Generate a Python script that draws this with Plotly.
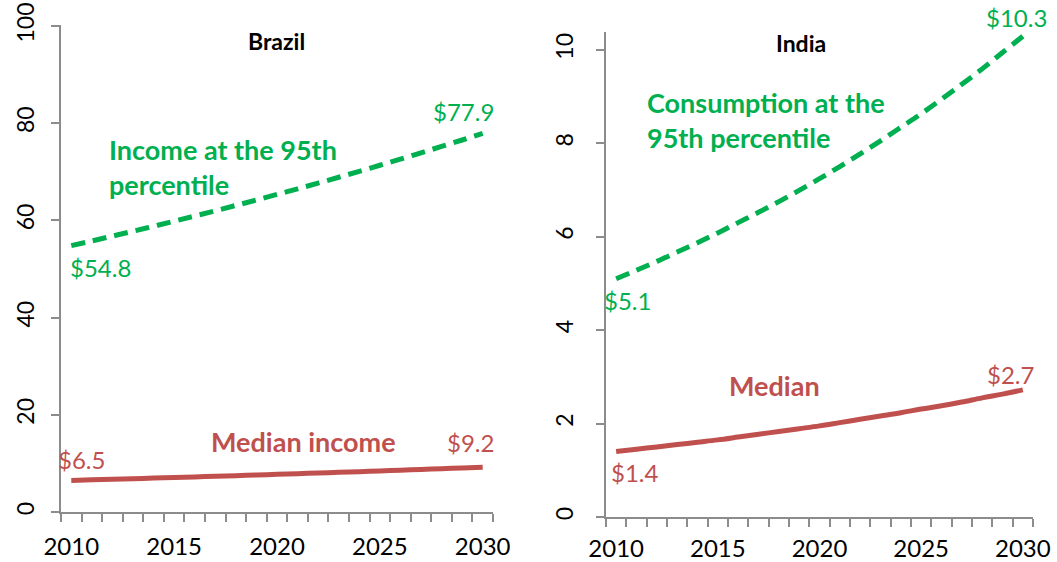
"""
Brazil income vs India consumption, median and 95th percentile, 2010-2030
"""
import plotly.graph_objects as go

years = list(range(2010, 2031))

brazil_p95 = [54.80, 55.77, 56.76, 57.77, 58.79, 59.84, 60.90, 61.98, 63.08, 64.20, 65.34,
              66.50, 67.68, 68.88, 70.10, 71.34, 72.61, 73.90, 75.21, 76.54, 77.90]
brazil_median = [6.50, 6.61, 6.73, 6.85, 6.97, 7.09, 7.22, 7.35, 7.48, 7.61, 7.74,
                 7.88, 8.02, 8.16, 8.30, 8.45, 8.60, 8.75, 8.90, 9.05, 9.20]
india_p95 = [5.10, 5.28, 5.47, 5.67, 5.87, 6.08, 6.30, 6.52, 6.75, 6.99, 7.24,
             7.50, 7.77, 8.05, 8.34, 8.63, 8.94, 9.26, 9.59, 9.94, 10.29]
india_median = [1.40, 1.45, 1.50, 1.55, 1.60, 1.65, 1.71, 1.77, 1.83, 1.89, 1.95,
                2.02, 2.09, 2.16, 2.23, 2.31, 2.38, 2.46, 2.55, 2.63, 2.72]

year_labels = [2010, 2015, 2020, 2025, 2030]
brazil_yticks = [0, 20, 40, 60, 80, 100]
india_yticks = [0, 2, 4, 6, 8, 10]

GREEN = '#00B050'
RED = '#C0504D'
AXIS = '#8C8C8C'
FONT = 'Lato'

fig = go.Figure()

dashed = {'color': GREEN, 'width': 5, 'dash': '14px,8px', 'shape': 'spline'}
solid = {'color': RED, 'width': 5, 'shape': 'spline'}
fig.add_trace(go.Scatter(x=years, y=brazil_p95, mode='lines', line=dashed))
fig.add_trace(go.Scatter(x=years, y=brazil_median, mode='lines', line=solid))
fig.add_trace(go.Scatter(x=years, y=india_p95, mode='lines', xaxis='x2', yaxis='y2',
                         line=dashed))
fig.add_trace(go.Scatter(x=years, y=india_median, mode='lines', xaxis='x2', yaxis='y2',
                         line=solid))

xaxis_style = dict(range=[2009.5, 2030.5], tickvals=year_labels, ticks='',
                   showline=True, linecolor=AXIS, linewidth=1.5,
                   showgrid=False, zeroline=False, automargin=False,
                   ticklabeloverflow='allow',
                   tickfont={'size': 24, 'color': 'black', 'family': FONT},
                   minor={'ticks': 'outside', 'tick0': 2009.5, 'dtick': 1,
                          'ticklen': 8, 'tickcolor': AXIS, 'tickwidth': 1.5,
                          'showgrid': False})
yaxis_style = dict(ticks='outside', ticklen=8, tickcolor=AXIS, tickwidth=1.5,
                   showline=True, linecolor=AXIS, linewidth=1.5,
                   showgrid=False, zeroline=False, automargin=False,
                   tickangle=-90, ticklabeloverflow='allow',
                   tickfont={'size': 23, 'color': 'black', 'family': FONT})

fig.update_layout(
    width=1057, height=562,
    margin={'l': 0, 'r': 0, 't': 0, 'b': 0},
    paper_bgcolor='white', plot_bgcolor='white',
    showlegend=False,
    font={'family': FONT},
    xaxis=dict(domain=[0.0577, 0.4664], anchor='y', ticklabelstandoff=12, **xaxis_style),
    yaxis=dict(domain=[0.0890, 0.9555], range=[0, 100.2], tickvals=brazil_yticks,
               anchor='x', ticklabelstandoff=8, **yaxis_style),
    xaxis2=dict(domain=[0.5733, 0.9773], anchor='y2', ticklabelstandoff=9, **xaxis_style),
    yaxis2=dict(domain=[0.0801, 0.9431], range=[0, 10.38], tickvals=india_yticks,
                anchor='x2', ticklabelstandoff=14, **yaxis_style),
)


def note(text, x, y, color, xref='x', yref='y', bold=False, size=24, align='center',
         xanchor='center'):
    if bold:
        text = '<b>' + text.replace('<br>', '</b><br><b>') + '</b>'
    fig.add_annotation(text=text, x=x, y=y, xref=xref, yref=yref, showarrow=False,
                       align=align, xanchor=xanchor, yanchor='middle',
                       font={'size': size, 'color': color, 'family': FONT})


# panel titles
note('Brazil', 2020.0, 96.9, 'black', bold=True, size=23)
note('India', 2019.1, 10.15, 'black', xref='x2', yref='y2', bold=True, size=23)

# Brazil labels
note('$54.8', 2011.4, 50.3, GREEN)
note('$77.9', 2029.05, 82.5, GREEN)
note('Income at the 95th<br>percentile', 2011.74, 71.0, GREEN, bold=True, size=27,
     align='left', xanchor='left')
note('$6.5', 2010.5, 10.7, RED)
note('$9.2', 2029.4, 14.2, RED)
note('Median income', 2021.27, 14.6, RED, bold=True, size=27)

# India labels ($10.3 sits above the axis range, so place it on the paper)
note('$10.3', 2029.67, 0.968, GREEN, xref='x2', yref='paper')
note('$5.1', 2010.58, 4.64, GREEN, xref='x2', yref='y2')
note('Consumption at the<br>95th percentile', 2011.42, 8.49, GREEN, xref='x2', yref='y2',
     bold=True, size=27, align='left', xanchor='left')
note('Median', 2017.8, 2.82, RED, xref='x2', yref='y2', bold=True, size=27)
note('$2.7', 2029.37, 3.06, RED, xref='x2', yref='y2')
note('$1.4', 2010.93, 0.96, RED, xref='x2', yref='y2')

# drop the default 8px body margin so the figure fills the window
fig.write_html('out.html', config={'displayModeBar': False},
               post_script="document.body.style.margin = '0px';")
